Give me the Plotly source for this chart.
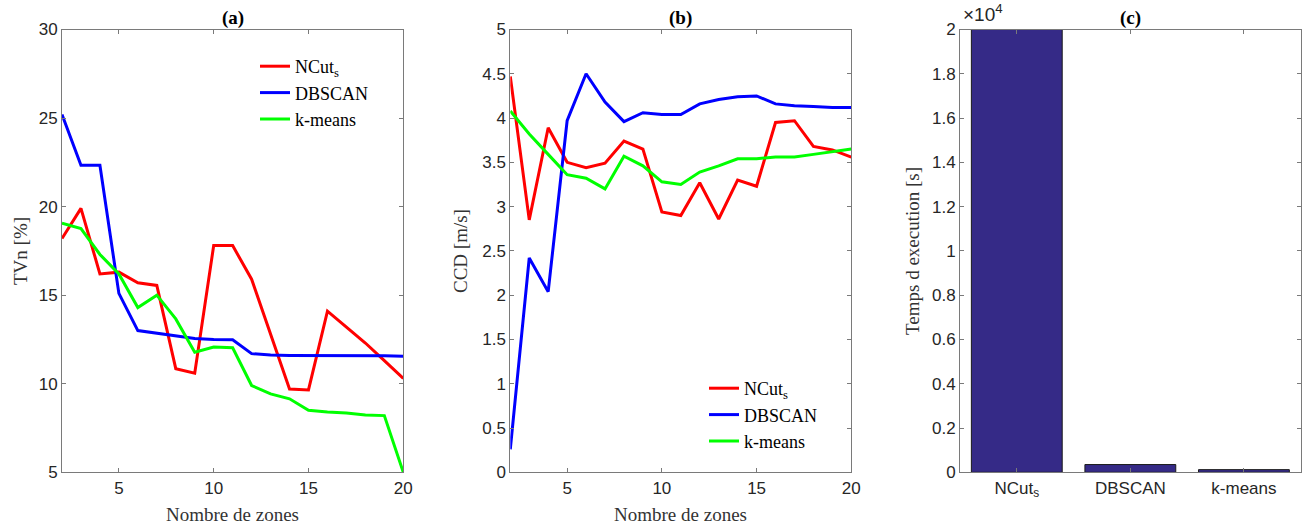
import plotly.graph_objects as go

# ---- data ----
zones = list(range(2, 21))

tvn_ncut = [18.2, 19.9, 16.2, 16.3, 15.7, 15.55, 10.85, 10.6, 17.8, 17.8, 15.9, 12.8, 9.7, 9.65, 14.1, 13.2, 12.3, 11.3, 10.3]
tvn_dbscan = [25.2, 22.33, 22.33, 15.1, 13.0, 12.86, 12.73, 12.56, 12.5, 12.48, 11.7, 11.62, 11.6, 11.6, 11.6, 11.6, 11.6, 11.58, 11.55]
tvn_kmeans = [19.07, 18.76, 17.3, 16.2, 14.3, 15.0, 13.66, 11.78, 12.07, 12.03, 9.9, 9.43, 9.15, 8.5, 8.4, 8.35, 8.23, 8.2, 5.0]

ccd_ncut = [4.47, 2.85, 3.89, 3.50, 3.44, 3.49, 3.74, 3.65, 2.94, 2.90, 3.27, 2.86, 3.30, 3.23, 3.95, 3.97, 3.68, 3.64, 3.56]
ccd_dbscan = [0.26, 2.42, 2.04, 3.97, 4.50, 4.18, 3.96, 4.06, 4.04, 4.04, 4.16, 4.21, 4.24, 4.25, 4.16, 4.14, 4.13, 4.12, 4.12]
ccd_kmeans = [4.08, 3.82, 3.59, 3.36, 3.32, 3.20, 3.57, 3.46, 3.28, 3.25, 3.39, 3.46, 3.54, 3.54, 3.56, 3.56, 3.59, 3.62, 3.65]

methods = ["NCut<sub>s</sub>", "DBSCAN", "k-means"]
exec_time = [20000, 350, 120]

time_ticks = [0, 2000, 4000, 6000, 8000, 10000, 12000, 14000, 16000, 18000, 20000]
time_tick_text = ["0", "0.2", "0.4", "0.6", "0.8", "1", "1.2", "1.4", "1.6", "1.8", "2"]

# ---- styles ----
W, H = 1305, 527
colors = ["#ff0000", "#0000ff", "#00ff00"]
SERIF = "Liberation Serif, Times New Roman, serif"
SANS = "Liberation Sans, Arial, sans-serif"
AXC = "#7a7a7a"
TXT = "#262626"

def px_x(p):
    return p / W

def px_y(p):
    return 1 - p / H

ydom = [px_y(472.3), px_y(29.5)]
xdoms = [[px_x(62), px_x(403.3)], [px_x(510.3), px_x(851.3)], [px_x(960), px_x(1300.7)]]

fig = go.Figure()

series_a = [tvn_ncut, tvn_dbscan, tvn_kmeans]
series_b = [ccd_ncut, ccd_dbscan, ccd_kmeans]
for i, (ys, name) in enumerate(zip(series_a, methods)):
    fig.add_trace(go.Scatter(x=zones, y=ys, mode="lines", name=name,
                             line=dict(color=colors[i], width=3),
                             xaxis="x", yaxis="y", legend="legend"))
for i, (ys, name) in enumerate(zip(series_b, methods)):
    fig.add_trace(go.Scatter(x=zones, y=ys, mode="lines", name=name,
                             line=dict(color=colors[i], width=3),
                             xaxis="x2", yaxis="y2", legend="legend2"))

fig.add_trace(go.Bar(x=[1, 2, 3], y=exec_time, width=0.8,
                     marker=dict(color="#352a87", line=dict(color="#1a1a1a", width=1)),
                     xaxis="x3", yaxis="y3", showlegend=False))

axis_common = dict(showline=True, linecolor=AXC, linewidth=1, mirror="ticks",
                   ticks="inside", ticklen=4, tickcolor=AXC, showgrid=False,
                   zeroline=False, automargin=False,
                   tickfont=dict(family=SANS, size=17, color=TXT))

legend_font = dict(family=SERIF, size=18, color="#000000")

fig.update_layout(
    width=W, height=H,
    margin=dict(l=0, r=0, t=0, b=0, autoexpand=False),
    paper_bgcolor="white", plot_bgcolor="white",
    xaxis=dict(domain=xdoms[0], anchor="y", range=[2, 20], tickvals=[5, 10, 15, 20], **axis_common),
    yaxis=dict(domain=ydom, anchor="x", range=[5, 30], tickvals=[5, 10, 15, 20, 25, 30], **axis_common),
    xaxis2=dict(domain=xdoms[1], anchor="y2", range=[2, 20], tickvals=[5, 10, 15, 20], **axis_common),
    yaxis2=dict(domain=ydom, anchor="x2", range=[0, 5], dtick=0.5, **axis_common),
    xaxis3=dict(domain=xdoms[2], anchor="y3", range=[0.5, 3.5], tickvals=[1, 2, 3], ticktext=methods, **axis_common),
    yaxis3=dict(domain=ydom, anchor="x3", range=[0, 20000], tickvals=time_ticks, ticktext=time_tick_text, **axis_common),
    legend=dict(x=px_x(255), y=px_y(48), xanchor="left", yanchor="top",
                font=legend_font, bgcolor="rgba(0,0,0,0)", tracegroupgap=0),
    legend2=dict(x=px_x(704), y=px_y(370), xanchor="left", yanchor="top",
                 font=legend_font, bgcolor="rgba(0,0,0,0)", tracegroupgap=0),
)

annots = [
    dict(text="<b>(a)</b>", x=px_x(232.6), y=px_y(18)),
    dict(text="<b>(b)</b>", x=px_x(680.8), y=px_y(18)),
    dict(text="<b>(c)</b>", x=px_x(1130.3), y=px_y(18)),
    dict(text="Nombre de zones", x=px_x(232.6), y=px_y(514)),
    dict(text="Nombre de zones", x=px_x(680.8), y=px_y(514)),
]
for a in annots:
    fig.add_annotation(xref="paper", yref="paper", showarrow=False,
                       xanchor="center", yanchor="middle",
                       font=dict(family=SERIF, size=19, color="#000000" if a["text"].startswith("<b>") else "#333333"),
                       **a)

ytitles = [("TVn [%]", 20), ("CCD [m/s]", 460), ("Temps d execution [s]", 912)]
for t, xp in ytitles:
    fig.add_annotation(xref="paper", yref="paper", showarrow=False, textangle=-90,
                       x=px_x(xp), y=px_y(251), xanchor="center", yanchor="middle",
                       text=t, font=dict(family=SERIF, size=19, color="#333333"))

fig.add_annotation(xref="paper", yref="paper", showarrow=False,
                   x=px_x(961), y=px_y(13), xanchor="left", yanchor="middle",
                   text="×10<sup>4</sup>", font=dict(family=SANS, size=19, color=TXT))

fig.write_html("out.html",
               config={"displayModeBar": False},
               post_script="document.body.style.margin='0';document.body.style.padding='0';")
